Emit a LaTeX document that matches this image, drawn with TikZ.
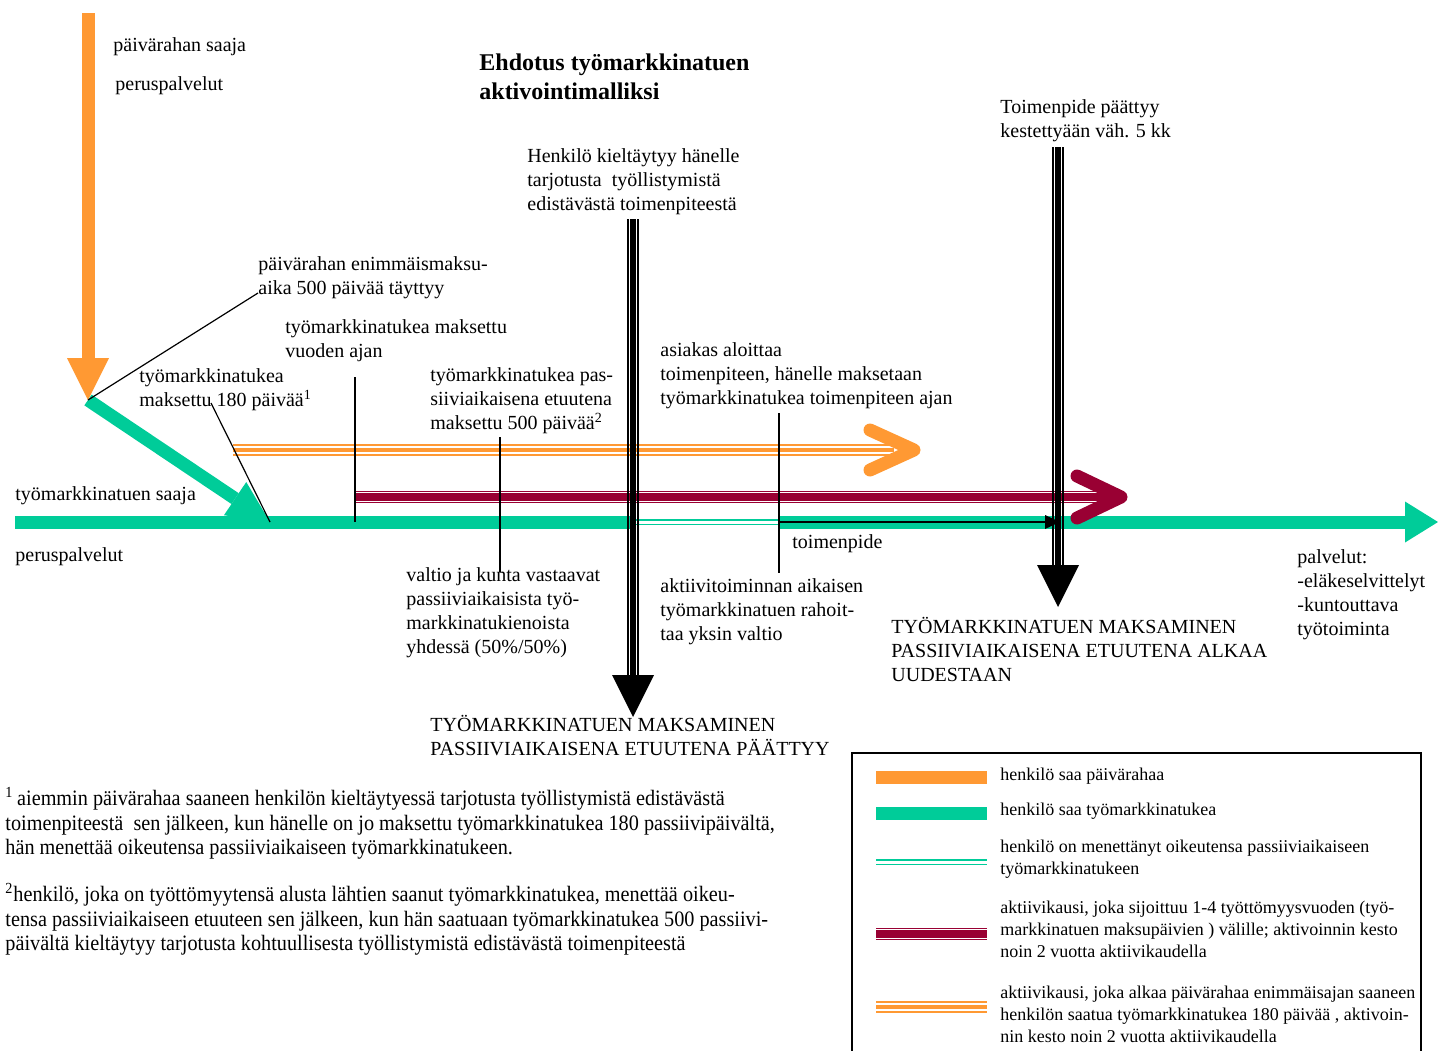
\documentclass[tikz,border=0pt]{standalone}
\usepackage{fontspec}
\setmainfont{Liberation Serif}
\newfontfamily\notefont[FakeStretch=0.92]{Liberation Serif}
\usetikzlibrary{arrows.meta,calc}

\definecolor{payorange}{RGB}{255,153,51}
\definecolor{tmgreen}{RGB}{0,204,153}
\definecolor{actred}{RGB}{153,0,51}

\tikzset{
  lbl/.style={anchor=north west, inner sep=0pt, align=left},
  legendtxt/.style={lbl, font=\fontsize{9}{10.8}\selectfont},
  notetxt/.style={lbl, font=\notefont\fontsize{11}{12.25}\selectfont},
  band/.style={draw=#1, line width=6.5pt},
  lostband/.style={draw=tmgreen, line width=0.8pt, double=white, double distance=1.5pt},
  tripleband/.style n args={4}{preaction={draw=#1, line width=#2}, preaction={draw=white, line width=#3}, draw=#1, line width=#4},
  dayband/.style={tripleband={payorange}{5.65pt}{4pt}{1.7pt}},
  actband/.style={tripleband={actred}{6.15pt}{4.65pt}{3.6pt}},
  chevron/.style={draw=#1, line width=6.5pt, line cap=round, line join=round},
  leader/.style={draw=black, line width=0.6pt},
  bigtip/.style={-{Triangle[length=21pt, width=21pt, line width=0pt]}},
}

\begin{document}
\begin{tikzpicture}[x=0.5pt, y=-0.5pt]
\useasboundingbox (0,0) rectangle (1438,1050);

% texts
\node[lbl] (payrecv) at (113,37) {päivärahan saaja};
\node[lbl] (payserv) at (115,76) {peruspalvelut};
\node[lbl, font=\bfseries\fontsize{12}{14.5}\selectfont] (title) at (479,53) {Ehdotus työmarkkinatuen\\aktivointimalliksi};
\node[lbl] (refuse) at (527,148) {Henkilö kieltäytyy hänelle\\tarjotusta\ \ työllistymistä\\edistävästä toimenpiteestä};
\node[lbl] (ends) at (1000,99) {Toimenpide päättyy\\kestettyään väh. 5 kk};
\node[lbl] (maxtime) at (258,256) {päivärahan enimmäismaksu-\\aika 500 päivää täyttyy};
\node[lbl] (year) at (285,319) {työmarkkinatukea maksettu\\vuoden ajan};
\node[lbl] (d180) at (139,368) {työmarkkinatukea\\maksettu 180 päivää\textsuperscript{1}};
\node[lbl] (d500) at (430,367) {työmarkkinatukea pas-\\siiviaikaisena etuutena\\maksettu 500 päivää\textsuperscript{2}};
\node[lbl] (start) at (660,342) {asiakas aloittaa\\toimenpiteen, hänelle maksetaan\\työmarkkinatukea toimenpiteen ajan};
\node[lbl] (tmrecv) at (15,486) {työmarkkinatuen saaja};
\node[lbl] (tmserv) at (15,547) {peruspalvelut};
\node[lbl] (measure) at (792,534) {toimenpide};
\node[lbl] (share) at (406,567) {valtio ja kunta vastaavat\\passiiviaikaisista työ-\\markkinatukienoista\\yhdessä (50\%/50\%)};
\node[lbl] (stateonly) at (660,578) {aktiivitoiminnan aikaisen\\työmarkkinatuen rahoit-\\taa yksin valtio};
\node[lbl] (serv) at (1297,549) {palvelut:\\-eläkeselvittelyt\\-kuntouttava\\työtoiminta};
\node[lbl] (stop) at (430,715) {TYÖMARKKINATUEN MAKSAMINEN\\PASSIIVIAIKAISENA ETUUTENA PÄÄTTYY};
\node[lbl] (restart) at (891,617) {TYÖMARKKINATUEN MAKSAMINEN\\PASSIIVIAIKAISENA ETUUTENA ALKAA\\UUDESTAAN};

% footnotes
\node[notetxt] (note1) at (5,787) {\textsuperscript{1}\,aiemmin päivärahaa saaneen henkilön kieltäytyessä tarjotusta työllistymistä edistävästä\\toimenpiteestä\ \ sen jälkeen, kun hänelle on jo maksettu työmarkkinatukea 180 passiivipäivältä,\\hän menettää oikeutensa passiiviaikaiseen työmarkkinatukeen.};
\node[notetxt] (note2) at (5,883) {\textsuperscript{2}henkilö, joka on työttömyytensä alusta lähtien saanut työmarkkinatukea, menettää oikeu-\\tensa passiiviaikaiseen etuuteen sen jälkeen, kun hän saatuaan työmarkkinatukea 500 passiivi-\\päivältä kieltäytyy tarjotusta kohtuullisesta työllistymistä edistävästä toimenpiteestä};

% points on the time line
\coordinate (payTop) at (88,13);
\coordinate (payTip) at (88,400);
\coordinate (diagEnd) at (270,522);
\coordinate (tmStart) at (15,522);
\coordinate (tmCut) at (634,522);
\coordinate (measureStart) at (779,522);
\coordinate (measureEnd) at (1060,522);
\coordinate (tmEnd) at (1438,522);
\coordinate (dayStart) at (233,450);
\coordinate (dayTip) at (914,450);
\coordinate (actStart) at (355,497);
\coordinate (actTip) at (1121,497);

% bands
\draw[band=payorange, bigtip] (payTop) -- (payTip);
\draw[band=tmgreen, -{Triangle[length=21pt, width=20pt, line width=0pt]}] (payTip) -- (diagEnd);
\draw[band=tmgreen] (tmStart) -- (tmCut);
\draw[lostband] (tmCut) -- (measureStart);
\draw[band=tmgreen, -{Triangle[length=16.5pt, width=20.5pt, line width=0pt]}] (measureStart) -- (tmEnd);
\draw[dayband] (dayStart) -- ($(dayTip)+(-20,0)$);
\draw[chevron=payorange] ($(dayTip)+(-44,-20)$) -- (dayTip) -- ($(dayTip)+(-44,20)$);
\draw[actband] (actStart) -- ($(actTip)+(-15,0)$);
\draw[chevron=actred] ($(actTip)+(-44,-21)$) -- (actTip) -- ($(actTip)+(-44,21)$);
\draw[line width=0.6pt, -{Triangle[length=7.5pt, width=7pt, line width=0pt]}] (measureStart) -- (measureEnd);

% leaders
\coordinate (maxtimeFoot) at (258,293);
\coordinate (d180Foot) at (211,403);
\coordinate (yearFoot) at (355,377);
\coordinate (d500Foot) at (500,437);
\coordinate (shareTop) at (500,572);
\coordinate (startFoot) at (779,413);
\coordinate (stateTop) at (779,573);
\draw[leader] (maxtimeFoot) -- (payTip);
\draw[leader] (d180Foot) -- (diagEnd);
\draw[leader] (yearFoot) -- (actStart |- tmStart);
\draw[leader] (d500Foot) -- (shareTop);
\draw[leader] (startFoot) -- (stateTop);

% black vertical arrows
\coordinate (refuseTop) at (633,219);
\coordinate (refuseTip) at (633,717);
\coordinate (endsTop) at (1058,147);
\coordinate (endsTip) at (1058,607);
\foreach \a/\b in {refuseTop/refuseTip, endsTop/endsTip} {
  \draw[line width=3pt, bigtip] (\a) -- (\b);
  \foreach \s in {-5.1,5.1}
    \draw[line width=0.7pt] ($(\a)+(\s,0)$) -- ($(\b)+(\s,-42)$);
}

% legend
\draw[line width=0.8pt] (852,1055) -- (852,753) -- (1421,753) -- (1421,1055);
\draw[band=payorange] (876,777) -- (987,777);
\draw[band=tmgreen] (876,813) -- (987,813);
\draw[lostband] (876,862) -- (987,862);
\draw[actband] (876,934) -- (987,934);
\draw[dayband] (876,1007) -- (987,1007);
\node[legendtxt] (legPay) at (1000,768) {henkilö saa päivärahaa};
\node[legendtxt] (legTm) at (1000,803) {henkilö saa työmarkkinatukea};
\node[legendtxt] (legLost) at (1000,840) {henkilö on menettänyt oikeutensa passiiviaikaiseen\\työmarkkinatukeen};
\node[legendtxt] (legAct) at (1000,901) {aktiivikausi, joka sijoittuu 1-4 työttömyysvuoden (työ-\\markkinatuen maksupäivien ) välille; aktivoinnin kesto\\noin 2 vuotta aktiivikaudella};
\node[legendtxt] (legDay) at (1000,986) {aktiivikausi, joka alkaa päivärahaa enimmäisajan saaneen\\henkilön saatua työmarkkinatukea 180 päivää , aktivoin-\\nin kesto noin 2 vuotta aktiivikaudella};
\end{tikzpicture}
\end{document}
